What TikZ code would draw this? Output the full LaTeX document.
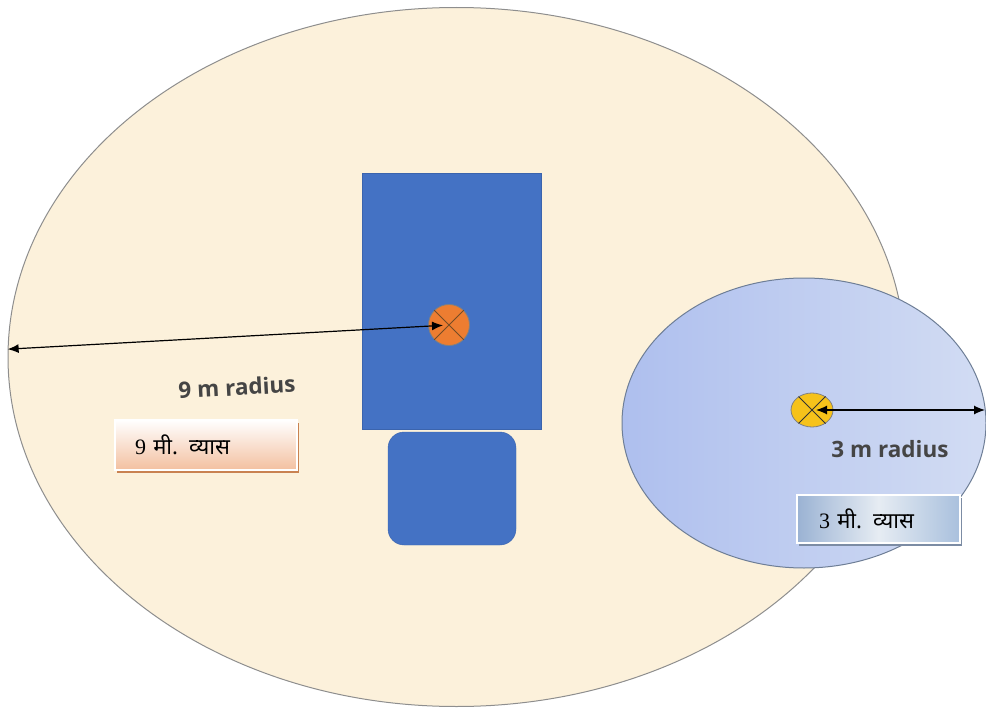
\documentclass[tikz,border=0pt]{standalone}
\usepackage{fontspec}
\setmainfont{Liberation Serif}
\newfontfamily\radiusfont{Open Sans}
\newfontfamily\devfont[Script=Devanagari]{Noto Sans}
\usetikzlibrary{shapes.geometric,arrows.meta,shadows}

\definecolor{fieldfill}{HTML}{FCF1DB}
\definecolor{fieldline}{HTML}{8E8E8E}
\definecolor{pondleft}{HTML}{AEBFEE}
\definecolor{pondright}{HTML}{D2DCF3}
\definecolor{pondline}{HTML}{6E7E96}
\definecolor{tankblue}{HTML}{4472C4}
\definecolor{tankline}{HTML}{3B64AD}
\definecolor{pitorange}{HTML}{ED7D31}
\definecolor{wellyellow}{HTML}{F6C21A}
\definecolor{textgray}{HTML}{454545}
\definecolor{peach}{HTML}{F3C0A0}
\definecolor{peachshadow}{HTML}{C98251}
\definecolor{steel}{HTML}{9AB2D3}
\definecolor{steelright}{HTML}{A9C0DD}
\definecolor{steellight}{HTML}{E6ECF3}
\definecolor{steelshadow}{HTML}{7C8CA4}

\begin{document}
\begin{tikzpicture}[x=1pt,y=-1pt,
    >={Latex[length=11pt,width=9pt]},
    dim/.style={<->, line width=1.2pt, black},
    hole/.style={draw=gray, line width=0.8pt, inner sep=0pt},
    radiuslabel/.style={font=\radiusfont\bfseries\fontsize{22.5}{26}\selectfont, text=textgray},
    caption/.style={draw=white, line width=2pt, align=left, inner ysep=0pt,
        font=\fontsize{22}{26}\selectfont}]

    \useasboundingbox (0,0) rectangle (986,709);

    % Outer circle (9 m)
    \node[ellipse, draw=fieldline, fill=fieldfill, line width=1pt,
        minimum width=897, minimum height=699] (field) at (456.5,357) {};

    % Tank and chamber
    \node[draw=tankline, fill=tankblue, minimum width=179, minimum height=256] (tank) at (451.5,301) {};
    \node[draw=tankline, fill=tankblue, rounded corners=16pt,
        minimum width=128, minimum height=113] (chamber) at (452,488.5) {};

    % Pit with cross
    \node[hole, circle, fill=pitorange, minimum size=41] (pit) at (449,325) {};
    \draw[brown!60!black, line width=0.8pt] (pit.45) -- (pit.225) (pit.135) -- (pit.315);

    % 9 m radius
    \coordinate (fieldedge) at (field.179.4);
    \draw[dim, shorten >=6pt] (fieldedge) -- (pit.center);
    \node[radiuslabel, rotate=3] (bigtext) at (237,387) {9 m radius};
    \node[caption, text width=142pt, inner xsep=20pt, minimum height=50,
        top color=white, bottom color=peach,
        drop shadow={shadow xshift=2pt, shadow yshift=-3pt, opacity=1, fill=peachshadow}]
        (bigcaption) at (206,445) {9 {\devfont मी. व्यास}};

    % Inner circle (3 m)
    \node[ellipse, draw=pondline, line width=1pt, left color=pondleft, right color=pondright,
        minimum width=364, minimum height=290] (pond) at (804,423) {};
    \node[hole, ellipse, fill=wellyellow, minimum width=42, minimum height=34] (well) at (812,410) {};
    \draw[black!80, line width=0.8pt] (well.45) -- (well.225) (well.135) -- (well.315);

    % 3 m radius
    \coordinate (pondedge) at (985,410);
    \draw[dim, shorten <=4pt] (well.center) -- (pondedge);
    \node[radiuslabel] (smalltext) at (890,449) {3 m radius};
    \node[caption, text width=119pt, inner xsep=22pt, minimum height=48,
        left color=steel, right color=steelright, middle color=steellight,
        drop shadow={shadow xshift=2pt, shadow yshift=-3pt, opacity=1, fill=steelshadow}]
        (smallcaption) at (878.5,519) {3 {\devfont मी. व्यास}};

\end{tikzpicture}
\end{document}
